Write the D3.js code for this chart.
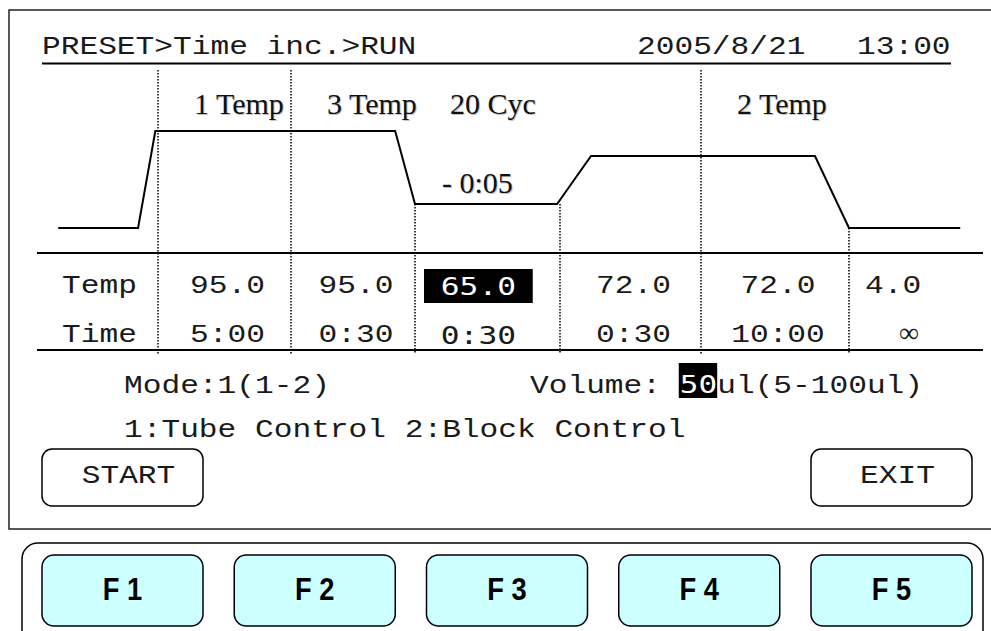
<!DOCTYPE html>
<html>
<head>
<meta charset="utf-8">
<script src="https://cdn.jsdelivr.net/npm/d3@7"></script>
<style>
  body { margin: 0; background: #fff; }
</style>
</head>
<body>
<svg></svg>
<script>
const svgWidth = 991
const svgHeight = 631

// screen content
const crumbs = "PRESET>Time inc.>RUN"
const dateText = "2005/8/21"
const clockText = "13:00"
const stepTemps = [95.0, 95.0, 65.0, 72.0, 72.0, 4.0]
const stepTimes = ["5:00", "0:30", "0:30", "0:30", "10:00", "\u221E"]
const selectedStep = 2
const groups = [
    { label: "1 Temp", first: 0 },
    { label: "3 Temp", first: 1 },
    { label: "2 Temp", first: 4 }
]
const cycleLabel = "20 Cyc"
const timeIncLabel = "- 0:05"
// temperature profile: [step position, temperature]
const profile = [[-0.75, 4], [-0.15, 4], [-0.02, 95], [1.84, 95], [2.0, 65], [2.98, 65],
                 [3.22, 72], [4.77, 72], [5.0, 4], [5.83, 4]]
const modeText = "Mode:1(1-2)"
const volumeLabel = "Volume: "
const volumeValue = "50"
const volumeUnit = "ul(5-100ul)"
const controlText = "1:Tube Control 2:Block Control"
const fKeys = ["F 1", "F 2", "F 3", "F 4", "F 5"]
const softKeys = [{ label: "START", key: 0 }, { label: "EXIT", key: 4 }]

const svg = d3.select("svg")
    .attr("width", svgWidth)
    .attr("height", svgHeight)

const monoSize = 26
const monoStretch = 1.2
const monoAdv = monoSize * 0.6 * monoStretch

function mono(x, y, str, anchor, opts) {
    opts = opts || {}
    return svg.append("text")
        .attr("transform", `translate(${x},${y}) scale(${opts.sx || monoStretch},1)`)
        .attr("font-family", opts.family || "'Liberation Mono', 'Courier New', monospace")
        .attr("font-size", opts.size || monoSize)
        .attr("text-anchor", anchor || "start")
        .attr("fill", opts.fill || "#1a1a1a")
        .text(str)
}

function serif(x, y, str, anchor) {
    [["#c4c4c4", 1], ["#111", 0]].forEach(([c, o]) => {
        svg.append("text")
            .attr("x", x + o).attr("y", y + o)
            .attr("font-family", "'Liberation Serif', 'Times New Roman', serif")
            .attr("font-size", 30)
            .attr("text-anchor", anchor || "start")
            .attr("fill", c)
            .text(str)
    })
}

// step columns and temperature levels
const x = d3.scaleLinear()
    .domain([0, 1, 2, 3, 4, 5, 6])
    .range([158, 291, 415, 560, 701, 849, 983])
const y = d3.scaleLinear()
    .domain([4, 65, 72, 95])
    .range([228, 204, 156, 131])

// screen frame
svg.append("rect")
    .attr("x", 9).attr("y", 10)
    .attr("width", 1000).attr("height", 519)
    .attr("fill", "none").attr("stroke", "#222").attr("stroke-width", 1.5)

// header
mono(42, 54, crumbs)
mono(637, 54, dateText)
mono(857, 54, clockText)
svg.append("line")
    .attr("x1", 42).attr("x2", 951).attr("y1", 63.5).attr("y2", 63.5)
    .attr("stroke", "#000").attr("stroke-width", 2)

// dotted step boundaries
const groupStarts = groups.map(g => g.first)
d3.range(stepTemps.length).forEach(i => {
    const top = groupStarts.includes(i) ? 70
        : y(Math.min(stepTemps[i], stepTemps[i - 1]))
    svg.append("line")
        .attr("x1", x(i)).attr("x2", x(i))
        .attr("y1", top).attr("y2", 354)
        .attr("stroke", "#000").attr("stroke-width", 1.5)
        .attr("stroke-dasharray", "1.5,1.5")
})

// temperature profile
svg.append("path")
    .datum(profile)
    .attr("d", d3.line().x(d => x(d[0])).y(d => y(d[1])))
    .attr("fill", "none").attr("stroke", "#000").attr("stroke-width", 2)

groups.forEach(g => serif(x(g.first) + 36, 114, g.label))
serif(x(selectedStep) + 35, 114, cycleLabel)
serif(x(selectedStep) + 27, 193, timeIncLabel)

// table
svg.selectAll(".tline")
    .data([253, 350])
    .join("line")
    .attr("x1", 37).attr("x2", 983)
    .attr("y1", d => d).attr("y2", d => d)
    .attr("stroke", "#000").attr("stroke-width", 2)

mono(62, 293, "Temp")
mono(62, 342, "Time")

const boxX = x(selectedStep) + 9
const boxW = (x(selectedStep + 1) - x(selectedStep)) * 0.75
svg.append("rect")
    .attr("x", boxX).attr("y", 269)
    .attr("width", boxW).attr("height", 34)
    .attr("fill", "#000")

const sansMono = { family: "'DejaVu Sans Mono', monospace", size: 25, sx: 1.25 }
stepTemps.forEach((t, i) => {
    const cx = (x(i) + x(i + 1)) / 2
    if (i === selectedStep) {
        mono(boxX + boxW / 2, 295, t.toFixed(1), "middle", Object.assign({ fill: "#fff" }, sansMono))
        mono(boxX + boxW / 2, 344, stepTimes[i], "middle", sansMono)
    } else if (i === stepTemps.length - 1) {
        mono(x(i) + 16, 293, t.toFixed(1))
        mono(cx - 7, 342, stepTimes[i], "middle", { family: "'Liberation Serif', serif", size: 28, sx: 1 })
    } else {
        mono(cx + 3, 293, t.toFixed(1), "middle")
        mono(cx + 3, 342, stepTimes[i], "middle")
    }
})

// mode / volume
mono(124, 393, modeText)
const volX = 530
mono(volX, 393, volumeLabel)
svg.append("rect")
    .attr("x", volX + volumeLabel.length * monoAdv - 1).attr("y", 363)
    .attr("width", volumeValue.length * monoAdv + 1).attr("height", 35)
    .attr("fill", "#000")
mono(volX + volumeLabel.length * monoAdv, 393, volumeValue, "start", Object.assign({ fill: "#fff" }, sansMono, { sx: 1.24 }))
mono(volX + (volumeLabel.length + volumeValue.length) * monoAdv, 393, volumeUnit)
mono(124, 437, controlText)

// keys
const keyScale = d3.scaleBand()
    .domain(d3.range(fKeys.length))
    .range([42, 972])
    .paddingInner(0.1625)

softKeys.forEach(k => {
    svg.append("rect")
        .attr("x", keyScale(k.key)).attr("y", 449)
        .attr("width", keyScale.bandwidth()).attr("height", 57)
        .attr("rx", 10)
        .attr("fill", "#fff").attr("stroke", "#000").attr("stroke-width", 1.5)
    mono(keyScale(k.key) + keyScale.bandwidth() / 2 + 6, 483, k.label, "middle")
})

svg.append("rect")
    .attr("x", 22).attr("y", 543)
    .attr("width", 961).attr("height", 140)
    .attr("rx", 16)
    .attr("fill", "none").attr("stroke", "#000").attr("stroke-width", 1.5)

const fg = svg.selectAll(".fkey")
    .data(fKeys)
    .join("g")
    .attr("class", "fkey")
    .attr("transform", (d, i) => `translate(${keyScale(i)},555)`)

fg.append("rect")
    .attr("width", keyScale.bandwidth()).attr("height", 71)
    .attr("rx", 12)
    .attr("fill", "#ccffff").attr("stroke", "#000").attr("stroke-width", 1.5)

fg.append("text")
    .attr("transform", `translate(${keyScale.bandwidth() / 2},45) scale(0.88,1)`)
    .attr("text-anchor", "middle")
    .attr("font-family", "'Liberation Sans', Arial, sans-serif")
    .attr("font-weight", "bold")
    .attr("font-size", 31)
    .attr("fill", "#000")
    .text(d => d)
</script>
</body>
</html>
